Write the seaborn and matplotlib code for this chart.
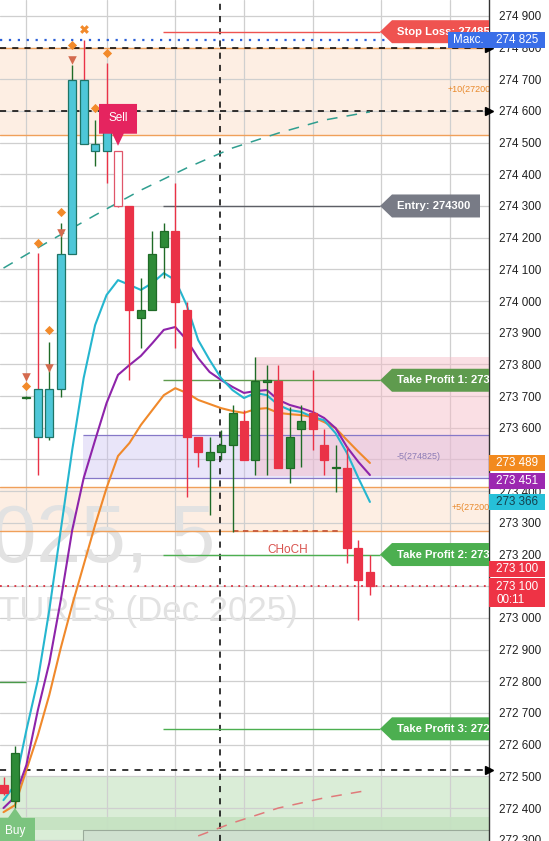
import numpy as np
import matplotlib
matplotlib.use("Agg")
import matplotlib.pyplot as plt
import matplotlib.transforms as mtransforms
from matplotlib.patches import Polygon, Rectangle
import seaborn as sns

# 5 min candles
opens = [272474, 272423, 273695, 273723, 273571, 273723, 274149, 274698, 274474, 274540,
         274474, 274300, 273947, 273972, 274171, 274221, 273972, 273571, 273499, 273524,
         273546, 273622, 273499, 273745, 273748, 273474, 273597, 273647, 273546, 273474,
         273474, 273221, 273145]
highs = [272499, 272596, 273700, 274152, 273871, 274246, 274745, 274825, 274571, 274751,
         274474, 274300, 274073, 274221, 274246, 274373, 273997, 273571, 273571, 273593,
         273672, 273657, 273824, 273798, 273798, 273666, 273672, 273783, 273597, 273546,
         273543, 273246, 273199]
lows = [272440, 272401, 273692, 273451, 273560, 273697, 274149, 274496, 274426, 274373,
        274297, 273751, 273852, 273972, 274073, 273852, 273382, 273477, 273325, 273499,
        273272, 273499, 273451, 273451, 273474, 273426, 273477, 273530, 273451, 273398,
        273174, 272994, 273073]
closes = [272448, 272574, 273697, 273571, 273723, 274149, 274698, 274496, 274496, 274474,
          274300, 273972, 273972, 274149, 274221, 273997, 273571, 273524, 273524, 273546,
          273647, 273499, 273748, 273750, 273474, 273571, 273622, 273597, 273499, 273474,
          273221, 273120, 273100]
# '' normal, 'c' cyan painted bar, 'h' hollow bar
body_style = ['', '', '', 'c', 'c', 'c', 'c', 'c', 'c', 'c', 'h'] + [''] * 22

# moving averages
ema_fast = [272425, 272473, 272646, 272804, 273025, 273277, 273530, 273757, 273924, 274019,
            274066, 274051, 274035, 274057, 274088, 274066, 273987, 273877, 273814, 273757,
            273719, 273694, 273710, 273703, 273672, 273656, 273650, 273634, 273624, 273583,
            273520, 273441, 273366]
ema_mid = [272400, 272435, 272536, 272709, 272858, 273056, 273277, 273441, 273561, 273678,
           273767, 273798, 273827, 273867, 273909, 273918, 273877, 273820, 273776, 273751,
           273729, 273710, 273716, 273719, 273688, 273672, 273662, 273650, 273631, 273599,
           273539, 273492, 273451]
ema_slow = [272387, 272409, 272520, 272630, 272757, 272905, 273041, 273167, 273293, 273410,
            273511, 273552, 273609, 273656, 273703, 273725, 273710, 273688, 273675, 273662,
            273653, 273647, 273659, 273662, 273647, 273643, 273640, 273634, 273618, 273599,
            273561, 273524, 273489]

upper_idx = [0, 4, 8, 12, 16, 20, 24, 28, 32]
upper_curve = [274104, 274189, 274271, 274350, 274420, 274483, 274530, 274571, 274597]
lower_idx = [17, 20, 24, 28, 32]
lower_curve = [272312, 272353, 272400, 272432, 272457]

diamond_idx = [2, 3, 4, 5, 6, 8, 9]
diamond_y = [273732, 274183, 273909, 274281, 274808, 274609, 274783]
tri_idx = [2, 4, 5, 6]
tri_y = [273760, 273789, 274215, 274761]
cross_idx = [7]
cross_y = [274858]

stop_loss = 274850
day_high = 274825
entry = 274300
take_profits = [273750, 273200, 272650]
tp_colors = ["#5f9b4e", "#4caf50", "#4caf50"]
last_price = 273100
choch = 273274
black_levels = [274800, 274600, 272520]
upper_zone = (274525, 274800)
lower_zone = (273274, 273413)
lilac_zone = (273440, 273577)
pink_zone = (273448, 273824)
green_zone = (272296, 272500)
price_ticks = list(range(272300, 275000, 100))
grid_idx = [2, 9, 15, 21, 27, 33, 39]

PX = 3.156  # price units per pixel

sns.set_style("white")
plt.rcParams['font.family'] = ['Liberation Sans', 'DejaVu Sans']

fig = plt.figure(figsize=(5.49, 8.41), dpi=100)
ax = fig.add_axes([0, 0, 489 / 549, 1])
ax.set_xlim(-0.306, 42.4)
ax.set_ylim(272296, 274950)
trans = mtransforms.blended_transform_factory(ax.transAxes, ax.transData)


def fmt(p):
    return f"{p // 1000} {p % 1000:03d}"


# grid and price scale
ax.set_xticks(grid_idx)
ax.set_xticklabels([])
ax.set_yticks(price_ticks)
ax.set_yticklabels([fmt(p) for p in price_ticks])
ax.yaxis.tick_right()
ax.tick_params(axis='both', length=0)
ax.tick_params(axis='y', pad=7, labelsize=8.4, labelcolor="#222222")
ax.grid(True, color="#cfcfcf", lw=0.9, zorder=0)
ax.set_axisbelow(True)
for s in ['left', 'top', 'bottom']:
    ax.spines[s].set_visible(False)
ax.spines['right'].set_color("#333333")
ax.spines['right'].set_linewidth(1.0)

# zones
ax.axhspan(*upper_zone, color="#fde9da", alpha=0.75, lw=0, zorder=0.5)
ax.axhspan(*lower_zone, color="#fde9da", alpha=0.75, lw=0, zorder=0.5)
for z in list(upper_zone) + list(lower_zone):
    ax.axhline(z, color="#f0a05a", lw=1.0, zorder=1)
ax.fill_between([6.95, 42.4], lilac_zone[0], lilac_zone[1], color="#c9bff0", alpha=0.4, lw=0, zorder=0.6)
ax.hlines(list(lilac_zone), 6.95, 42.4, color="#8678c8", lw=0.9, zorder=1)
ax.fill_between([21.95, 42.4], pink_zone[0], pink_zone[1], color="#f6b9c4", alpha=0.45, lw=0, zorder=0.6)
ax.axhspan(*green_zone, color="#d6ebd3", alpha=0.9, lw=0, zorder=0.5)
ax.axhspan(272331, 272372, color="#c5e2c1", alpha=0.9, lw=0, zorder=0.55)
ax.add_patch(Rectangle((6.95, 272250), 40, 80, facecolor="#cfe0cf", edgecolor="#9aaa9a", lw=0.8, zorder=0.6))

ax.text(448 / 489, 274666, "+10(27200)", transform=trans, color="#e8892b", fontsize=6.5, va='center', clip_on=True, zorder=2)
ax.text(452 / 489, 273347, "+5(27200)", transform=trans, color="#e8892b", fontsize=6.5, va='center', clip_on=True, zorder=2)
ax.text(397 / 489, 273508, "-5(274825)", transform=trans, color="#8b7bb5", fontsize=6.5, va='center', clip_on=True, zorder=2)

# watermark
ax.text(18.5, 273177, "2025, 5", ha='right', va='baseline', fontsize=58, color="#e2e2e2", zorder=0.7)
ax.text(25.7, 272990, "FUTURES (Dec 2025)", ha='right', va='baseline', fontsize=25, color="#e2e2e2", zorder=0.7)

# reference lines
for lv in black_levels:
    ax.axhline(lv, color="black", lw=1.1, ls=(0, (4, 4)), zorder=2)
    ax.plot([1.0], [lv], marker='>', color='black', ms=6, transform=trans, clip_on=False, zorder=6)
ax.axvline(18.9, color="black", lw=1.1, ls=(0, (4, 4)), zorder=2)
ax.axhline(day_high, color="#2a5fd8", lw=1.6, ls=(0, (1, 3)), zorder=2)
ax.axhline(last_price, color="#d9303f", lw=1.3, ls=(0, (1, 3)), zorder=2)
ax.hlines(stop_loss, 13.93, 32.88, color="#ef5350", lw=1.0, zorder=2)
ax.hlines(entry, 13.93, 32.88, color="#5d5f66", lw=1.0, zorder=2)
for tp, c in zip(take_profits, tp_colors):
    ax.hlines(tp, 13.93, 32.88, color=c, lw=1.0, zorder=2)
ax.hlines(272798, -0.4, 2.0, color="#4a9a4a", lw=1.0, zorder=2)
ax.hlines(choch, 20, 29.6, color="#c65a3c", lw=1.3, ls=(0, (3, 2.5)), zorder=2)
ax.text(24.8, 273214, "CHoCH", color="#d9534f", fontsize=8.5, ha='center', va='center', zorder=2)

# curves
idx = np.arange(len(opens))
sns.lineplot(x=upper_idx, y=upper_curve, ax=ax, color="#2f9e8f", lw=1.1, linestyle=(0, (7, 6)), zorder=2.5)
sns.lineplot(x=lower_idx, y=lower_curve, ax=ax, color="#e07a7a", lw=1.1, linestyle=(0, (7, 6)), zorder=2.5)
sns.lineplot(x=idx, y=ema_slow, ax=ax, color="#f0892b", lw=1.5, zorder=3)
sns.lineplot(x=idx, y=ema_mid, ax=ax, color="#8e24aa", lw=1.5, zorder=3)
sns.lineplot(x=idx, y=ema_fast, ax=ax, color="#25b6cf", lw=1.5, zorder=3)
ax.set_xlabel("")
ax.set_ylabel("")

# candles
RED, GREEN, GREEN_EDGE, CYAN, CYAN_EDGE = "#ea3247", "#2e8b38", "#1f6b27", "#4ec7d8", "#1f7466"
for i in idx:
    o, h, l, c = opens[i], highs[i], lows[i], closes[i]
    up = c >= o
    ax.vlines(i, l, h, color=GREEN_EDGE if up else RED, lw=1.0, zorder=3.5)
    bottom, height = min(o, c), max(abs(c - o), 2)
    if body_style[i] == 'c':
        face, edge = CYAN, CYAN_EDGE
    elif body_style[i] == 'h':
        face, edge = "white", "#e0566a"
    else:
        face, edge = (GREEN, GREEN_EDGE) if up else (RED, RED)
    ax.bar(i, height, bottom=bottom, width=0.7, color=face, edgecolor=edge, lw=0.9, zorder=4)

# signal markers
ax.scatter(diamond_idx, diamond_y, marker='D', s=22, color="#f28a2a", lw=0, zorder=5)
ax.scatter(tri_idx, tri_y, marker='v', s=38, color="#d46a4e", lw=0, zorder=5)
ax.scatter(cross_idx, cross_y, marker='X', s=40, color="#f28a2a", lw=0, zorder=5)

# sell / buy flags
ax.add_patch(Polygon([[8.34, 274622], [11.66, 274622], [11.66, 274528], [10.5, 274528], [10.0, 274490],
                      [9.5, 274528], [8.34, 274528]], closed=True, facecolor="#e5245f", lw=0, zorder=6))
ax.text(10.0, 274578, "Sell", color="white", fontsize=8.5, ha='center', va='center', zorder=7)
ax.add_patch(Polygon([[-0.4, 272369], [0.4, 272369], [1.0, 272400], [1.6, 272369], [2.75, 272369],
                      [2.75, 272290], [-0.4, 272290]], closed=True, facecolor="#7cc47f", lw=0, zorder=6))
ax.text(1.0, 272327, "Buy", color="white", fontsize=8.5, ha='center', va='center', zorder=7)


def tag(y, text, color, x_end=1.0):
    h = 11.5 * PX
    tip, x0 = 380 / 489, 392 / 489
    ax.add_patch(Polygon([[tip, y], [x0, y + h], [x_end, y + h], [x_end, y - h], [x0, y - h]],
                         closed=True, transform=trans, facecolor=color, lw=0, zorder=6))
    ax.text(x0 + 0.01, y, text, transform=trans, color="white", fontsize=8.1, fontweight='bold',
            va='center', ha='left', zorder=7, clip_on=True)


tag(stop_loss, f"Stop Loss: {stop_loss}", "#ef5350")
tag(entry, f"Entry: {entry}", "#787b86", x_end=480 / 489)
for n, (tp, c) in enumerate(zip(take_profits, tp_colors), start=1):
    tag(tp, f"Take Profit {n}: {tp}", c)


def price_box(y, text, face, tcolor="white", x0=1.0, x1=545 / 489, h=8 * PX):
    ax.add_patch(Rectangle((x0, y - h), x1 - x0, 2 * h, transform=trans, facecolor=face, lw=0,
                           clip_on=False, zorder=8))
    if text:
        ax.text((x0 + x1) / 2, y, text, transform=trans, color=tcolor, fontsize=8.4, ha='center',
                va='center', clip_on=False, zorder=9)


price_box(day_high, "Макс.", "#3a6ee8", x0=448 / 489, x1=1.0)
price_box(day_high, fmt(day_high), "#3a6ee8")
price_box(ema_slow[-1], fmt(ema_slow[-1]), "#f28a1e")
price_box(ema_mid[-1] - 6 * PX, fmt(ema_mid[-1]), "#9c27b0")
price_box(ema_fast[-1], fmt(ema_fast[-1]), "#26c0d8", tcolor="#14404d")
price_box(last_price + 17 * PX, fmt(last_price), "#ee3345")
price_box(last_price - 6.5 * PX, "", "#ee3345", h=14.5 * PX)
ax.text(1.015, last_price - 0.5 * PX, fmt(last_price), transform=trans, color="white", fontsize=8.4,
        va='center', clip_on=False, zorder=9)
ax.text(1.015, last_price - 14 * PX, "00:11", transform=trans, color="white", fontsize=8.4,
        va='center', clip_on=False, zorder=9)

fig.savefig("out.png", dpi=100)
